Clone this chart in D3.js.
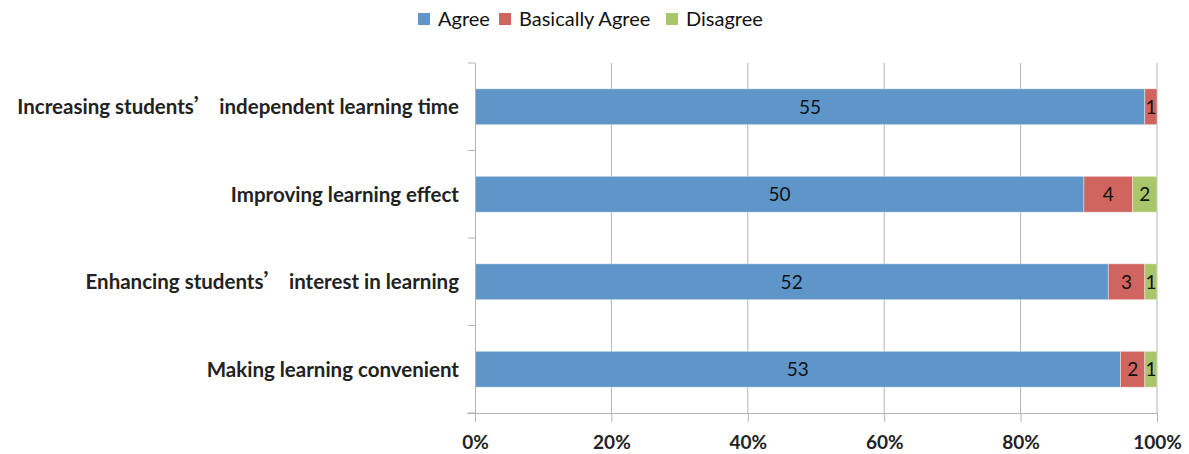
<!DOCTYPE html>
<html>
<head>
<meta charset="utf-8">
<script src="https://cdn.jsdelivr.net/npm/d3@7"></script>
<style>
  body { margin: 0; background: #fff; }
  svg { display: block; font-family: Lato, "Open Sans", sans-serif; }
</style>
</head>
<body>
<svg id="svg" width="1189" height="454"></svg>
<script>
const categories = [
  "Increasing students’ independent learning time",
  "Improving learning effect",
  "Enhancing students’ interest in learning",
  "Making learning convenient"
];
const seriesNames = ["Agree", "Basically Agree", "Disagree"];
const agree = [55, 50, 52, 53];
const basicallyAgree = [1, 4, 3, 2];
const disagree = [0, 2, 1, 1];
const colors = ["#5f96c9", "#d0645f", "#a9c66c"];
const ticks = [0, 0.2, 0.4, 0.6, 0.8, 1];

const svg = d3.select("#svg");
const plotLeft = 475, plotRight = 1157, plotTop = 63, plotBottom = 413;

const rows = categories.map((c, i) => {
  const vals = [agree[i], basicallyAgree[i], disagree[i]];
  const total = d3.sum(vals);
  let acc = 0;
  const segs = vals.map((v, k) => {
    const s = { k, v, x0: acc / total, x1: (acc + v) / total };
    acc += v;
    return s;
  });
  return { c, segs };
});

const x = d3.scaleLinear().domain([0, 1]).range([plotLeft, plotRight]);
const y = d3.scaleBand().domain(categories).range([plotTop, plotBottom]).paddingInner(0.59).paddingOuter(0.295);

// gridlines
const grid = "#b4b4b4";
svg.append("g")
  .selectAll("line")
  .data(ticks.slice(1))
  .join("line")
  .attr("x1", d => x(d)).attr("x2", d => x(d))
  .attr("y1", plotTop).attr("y2", plotBottom)
  .attr("stroke", grid);

// bars
const g = svg.append("g");
rows.forEach(r => {
  g.selectAll(null)
    .data(r.segs.filter(s => s.v > 0))
    .join("rect")
    .attr("x", s => x(s.x0))
    .attr("width", s => x(s.x1) - x(s.x0))
    .attr("y", y(r.c))
    .attr("height", y.bandwidth())
    .attr("fill", s => colors[s.k])
    .attr("stroke", "#fff")
    .attr("stroke-opacity", 0.5)
    .attr("stroke-width", 0.8);
  g.selectAll(null)
    .data(r.segs.filter(s => s.v > 0))
    .join("text")
    .attr("x", s => (x(s.x0) + x(s.x1)) / 2)
    .attr("y", y(r.c) + y.bandwidth() / 2)
    .attr("dy", "0.36em")
    .attr("text-anchor", "middle")
    .attr("font-size", 19)
    .attr("fill", "#111")
    .text(s => s.v);
});

// x axis
const xAxis = svg.append("g")
  .attr("transform", `translate(0,${plotBottom})`)
  .call(d3.axisBottom(x).tickValues(ticks).tickFormat(d3.format(".0%")).tickSize(9).tickPadding(14));
xAxis.select(".domain").attr("d", `M${plotLeft - 8},0.5H${plotRight}`).attr("stroke", grid);
xAxis.selectAll(".tick line").attr("stroke", grid);
xAxis.selectAll(".tick text")
  .attr("font-size", 19).attr("font-weight", "bold").attr("fill", "#222")
  .attr("font-family", "Lato, sans-serif");

// y axis
const yAxis = svg.append("g").attr("transform", `translate(${plotLeft},0)`);
yAxis.append("line").attr("x1", 0.5).attr("x2", 0.5).attr("y1", plotTop).attr("y2", plotBottom).attr("stroke", grid);
const step = y.step();
yAxis.selectAll(".yt")
  .data(d3.range(categories.length + 1))
  .join("line")
  .attr("x1", -7).attr("x2", 0)
  .attr("y1", i => plotTop + i * step).attr("y2", i => plotTop + i * step)
  .attr("stroke", grid);

const labels = svg.append("g")
  .selectAll("text")
  .data(categories)
  .join("text")
  .attr("x", 459)
  .attr("y", d => y(d) + y.bandwidth() / 2)
  .attr("dy", "0.36em")
  .attr("text-anchor", "end")
  .attr("font-size", 20.5)
  .attr("font-weight", "bold")
  .attr("fill", "#222");
labels.each(function (d) {
  const t = d3.select(this);
  const parts = d.split("’");
  parts.forEach((p, i) => {
    if (i > 0) t.append("tspan").attr("font-family", "'Noto Sans CJK SC'").text("’");
    t.append("tspan").text(p);
  });
});

// legend
const legendX = [418, 499, 666];
const legend = svg.append("g")
  .selectAll("g")
  .data(seriesNames)
  .join("g")
  .attr("transform", (d, i) => `translate(${legendX[i]},13)`);
legend.append("rect").attr("width", 12).attr("height", 12).attr("fill", (d, i) => colors[i]);
legend.append("text")
  .attr("x", 20).attr("y", 6).attr("dy", "0.36em")
  .attr("font-size", 20).attr("fill", "#111")
  .text(d => d);
</script>
</body>
</html>
